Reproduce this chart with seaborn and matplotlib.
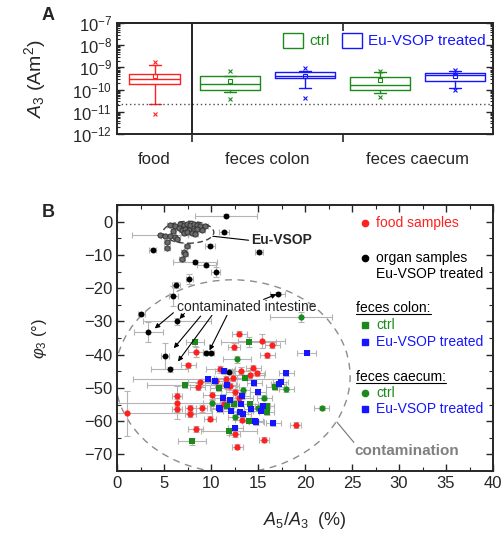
import numpy as np
import pandas as pd
import matplotlib
matplotlib.use("Agg")
import matplotlib.pyplot as plt
import seaborn as sns
from matplotlib.patches import Ellipse, Patch
from matplotlib.ticker import LogLocator, MultipleLocator, NullFormatter

sns.set_style("ticks")
plt.rcParams["font.family"] = ["Liberation Sans", "DejaVu Sans"]
plt.rcParams["mathtext.fontset"] = "custom"
plt.rcParams["mathtext.rm"] = "Liberation Sans"
plt.rcParams["mathtext.it"] = "Liberation Sans:italic"
plt.rcParams["mathtext.bf"] = "Liberation Sans:bold"

# -----------------------------
# Panel A: box statistics (A3 in Am^2)
# -----------------------------
box_names = ["food", "colon ctrl", "colon treated", "caecum ctrl", "caecum treated"]
box_q1 = [1.8e-10, 1.0e-10, 3.3e-10, 9.7e-11, 2.5e-10]
box_med = [2.9e-10, 1.8e-10, 4.1e-10, 1.6e-10, 4.4e-10]
box_q3 = [5.2e-10, 4.0e-10, 6.0e-10, 3.6e-10, 5.8e-10]
whis_lo = [2.3e-11, 7.6e-11, 1.15e-10, 6.9e-11, 1.23e-10]
whis_hi = [1.35e-9, 4.0e-10, 6.6e-10, 6.2e-10, 6.9e-10]
box_mean = [4.0e-10, 2.4e-10, 4.1e-10, 2.7e-10, 4.3e-10]
flier_lo = [8e-12, 3.7e-11, 4e-11, 4.6e-11, 9.8e-11]
flier_hi = [1.7e-9, 7e-10, 9e-10, 7e-10, 7.6e-10]
detection_limit = 2.2e-11
group_labels = ["food", "feces colon", "feces caecum"]

# -----------------------------
# Panel B: phase vs. A5/A3
# -----------------------------
food_x = [13.0, 15.4, 16.5, 12.45, 16.0, 8.4, 7.6, 11.0, 13.2, 14.1, 14.5, 14.9, 8.8,
          8.6, 10.5, 11.55, 11.6, 12.0, 6.4, 6.4, 6.4, 7.8, 7.8, 9.0, 1.1, 10.1, 12.6,
          11.4, 9.9, 13.35, 8.4, 19.0, 12.5, 15.65, 12.8, 13.0, 12.3]
food_y = [-33.7, -35.9, -37.1, -37.6, -40.2, -39.2, -43.2, -44.4, -44.8, -46.2, -43.9,
          -45.6, -48.3, -49.6, -47.9, -47.4, -49.0, -49.5, -52.4, -54.4, -56.4, -56.2,
          -57.9, -56.2, -57.7, -52.2, -51.2, -54.9, -59.3, -59.6, -62.4, -61.2, -63.9,
          -65.6, -67.7, -53.0, -47.0]
food_xerr = [0.8, 2.5, 0.8, 0.6, 0.8, 0.8, 0.8, 1.5, 1.0, 1.5, 0.8, 0.8, 1.2,
             0.8, 1.5, 1.0, 1.2, 1.0, 0.5, 6.4, 0.5, 0.6, 0.6, 0.6, 9.0, 1.0, 1.0,
             1.2, 0.6, 0.8, 0.8, 0.6, 0.6, 0.5, 0.6, 1.5, 2.0]
food_yerr = [0.8, 2.0, 0.8, 1.0, 0.8, 1.5, 0.8, 1.0, 1.0, 1.5, 0.8, 0.8, 1.0,
             1.0, 1.0, 1.0, 1.0, 1.0, 1.0, 5.0, 1.0, 1.0, 1.0, 1.0, 6.7, 1.0, 1.0,
             1.0, 0.8, 0.8, 1.0, 0.8, 0.8, 0.8, 0.8, 1.0, 1.0]

organ_x = [11.55, 11.4, 3.8, 15.1, 9.9, 8.3, 9.5, 10.5, 7.7, 6.3, 6.0, 2.6, 6.4, 3.35,
           5.1, 5.6, 9.5, 9.95, 11.9, 17.1]
organ_y = [1.8, -3.2, -8.4, -9.1, -7.2, -12.1, -12.9, -15.2, -17.2, -19.1, -22.4, -27.9,
           -30.0, -33.2, -40.4, -44.4, -39.4, -39.4, -45.1, -21.7]
organ_xerr = [3.3, 0.5, 0.4, 0.4, 0.5, 2.3, 1.0, 0.5, 0.4, 0.4, 0.5, 0.4, 3.6, 1.5,
              0.4, 2.0, 0.4, 0.4, 0.4, 0.8]
organ_yerr = [0.4, 0.5, 0.5, 0.5, 0.5, 0.6, 0.8, 1.5, 1.5, 1.0, 3.0, 0.6, 1.0, 3.0,
              4.0, 0.8, 0.6, 0.6, 0.8, 0.5]

vsop_x = [5.67, 6.2, 6.74, 7.1, 7.45, 7.8, 8.16, 8.5, 8.88, 9.4, 6.56, 6.9, 7.27, 7.63,
          8.16, 8.5, 9.05, 6.0, 7.1, 7.45, 8.0, 8.34, 4.6, 5.13, 5.67, 6.2, 6.38, 5.3,
          5.3, 7.45, 7.1, 7.27, 6.9]
vsop_y = [-0.9, -1.2, -0.6, -0.9, -0.6, -0.9, -0.6, -0.9, -1.2, -1.4, -1.9, -2.4, -2.2,
          -2.6, -2.4, -2.2, -2.6, -2.9, -3.4, -3.2, -3.4, -3.6, -3.9, -4.2, -4.4, -4.6,
          -5.2, -6.2, -7.9, -7.4, -9.2, -9.6, -11.2]
vsop_xerr = [0.3, 0.3, 0.3, 0.3, 0.3, 0.3, 0.3, 0.3, 0.3, 0.3, 0.3, 0.3, 0.3, 0.3,
             0.3, 0.3, 0.3, 0.3, 0.3, 0.3, 0.3, 0.3, 3.0, 0.5, 0.5, 0.5, 0.3, 0.3,
             0.3, 0.3, 0.3, 0.3, 0.3]

colon_ctrl_x = [14.0, 8.3, 7.2, 8.0, 11.9, 16.8, 13.6, 10.9, 12.45, 15.95, 15.95, 14.05,
                11.66, 14.2]
colon_ctrl_y = [-36.1, -36.3, -49.1, -66.1, -63.1, -49.6, -46.9, -49.9, -54.9, -55.4,
                -57.4, -59.9, -55.6, -54.9]
colon_ctrl_xerr = [2.9, 1.0, 4.0, 1.5, 3.0, 1.0, 0.8, 1.0, 1.0, 0.8, 0.8, 0.8, 0.8, 0.8]
colon_ctrl_yerr = [1.5, 1.0, 1.0, 1.0, 1.0, 1.0, 0.8, 1.0, 1.0, 0.8, 0.8, 0.8, 0.8, 0.8]

caecum_ctrl_x = [19.6, 12.8, 21.8, 18.0, 15.65, 13.4, 10.1, 15.0, 12.6]
caecum_ctrl_y = [-28.7, -41.4, -56.1, -50.4, -52.9, -50.6, -54.6, -56.2, -58.9]
caecum_ctrl_xerr = [3.3, 1.5, 0.8, 0.8, 0.8, 0.8, 1.0, 0.8, 0.8]
caecum_ctrl_yerr = [1.5, 1.0, 0.6, 0.8, 0.8, 0.8, 1.0, 0.8, 0.8]

colon_trt_x = [20.2, 18.0, 17.4, 17.2, 15.0, 13.3, 14.6, 11.4, 9.7, 10.4, 11.7, 11.3,
               12.0, 13.2, 11.0, 12.1]
colon_trt_y = [-39.4, -45.6, -48.1, -48.9, -51.2, -52.4, -48.6, -44.9, -47.4, -47.9,
               -49.2, -52.9, -53.6, -54.7, -56.4, -56.9]
colon_trt_xerr = [1.0, 0.8, 0.8, 0.8, 0.8, 0.8, 0.8, 1.0, 8.0, 1.0, 1.0, 1.0,
                  1.0, 0.8, 1.0, 0.8]
colon_trt_yerr = [0.6, 0.8, 0.8, 0.8, 0.8, 0.8, 0.8, 1.0, 1.0, 1.0, 1.0, 1.0,
                  1.0, 0.8, 1.0, 0.8]

caecum_trt_x = [15.5, 15.3, 14.3, 13.1, 13.45, 14.7, 14.8, 16.6, 12.6, 10.9]
caecum_trt_y = [-55.4, -56.9, -56.4, -57.4, -57.9, -59.9, -60.4, -60.7, -62.2, -56.2]
caecum_trt_xerr = [0.8, 0.8, 0.8, 0.8, 0.8, 0.8, 0.8, 0.8, 0.8, 1.0]
caecum_trt_yerr = [0.8, 0.8, 0.8, 0.8, 0.8, 0.8, 0.8, 0.8, 0.8, 1.0]

RED = "#ff2020"
GREEN = "#1b8a1b"
BLUE = "#1515ff"
ERR = "#b4b4b4"

fig = plt.figure(figsize=(5.03, 5.33), dpi=100)
axA = fig.add_axes([117 / 503, 1 - 134 / 533, 376 / 503, 111 / 533])
axB = fig.add_axes([117 / 503, 1 - 471 / 533, 376 / 503, 266 / 533])

# -----------------------------
# Panel A
# -----------------------------
stats = []
for i in range(len(box_names)):
    stats.append(dict(med=box_med[i], q1=box_q1[i], q3=box_q3[i],
                      whislo=whis_lo[i], whishi=whis_hi[i], mean=box_mean[i],
                      fliers=[flier_lo[i], flier_hi[i]], label=box_names[i]))
box_colors = [RED, GREEN, BLUE, GREEN, BLUE]
res = axA.bxp(stats, positions=[1, 2, 3, 4, 5], widths=[0.68, 0.8, 0.8, 0.8, 0.8],
              capwidths=0.16, showmeans=True, showfliers=True, patch_artist=False)
for i, c in enumerate(box_colors):
    res["boxes"][i].set(color=c, lw=1)
    res["medians"][i].set(color=c, lw=1)
    for j in (2 * i, 2 * i + 1):
        res["whiskers"][j].set(color=c, lw=1)
        res["caps"][j].set(color=c, lw=1)
    res["fliers"][i].set(marker="x", markeredgecolor=c, markersize=3.5, markeredgewidth=0.8)
    res["means"][i].set(marker="s", markerfacecolor="none", markeredgecolor=c,
                        markersize=3.5, markeredgewidth=0.8)

axA.axhline(detection_limit, color="0.3", ls=(0, (1, 2)), lw=1)
axA.axvline(1.5, color="k", lw=1.2)
axA.set_yscale("log")
axA.set_ylim(1e-12, 1e-7)
axA.set_xlim(0.5, 5.5)
axA.yaxis.set_major_locator(LogLocator(base=10, numticks=10))
axA.yaxis.set_minor_locator(LogLocator(base=10, subs=np.arange(2, 10), numticks=20))
axA.yaxis.set_minor_formatter(NullFormatter())
axA.tick_params(axis="y", which="both", direction="in", left=True, right=True, labelsize=12)
axA.tick_params(axis="y", which="major", length=5, width=1)
axA.tick_params(axis="y", which="minor", length=2.5, width=0.8)
axA.set_xticks([1.5, 3.5])
axA.set_xticklabels(["", ""])
axA.tick_params(axis="x", which="major", direction="out", length=6, width=1.2)
axA.set_xticks([1, 2.5, 4.5], minor=True)
axA.set_xticklabels(group_labels, minor=True)
axA.tick_params(axis="x", which="minor", length=0, pad=13, labelsize=12)
top = axA.secondary_xaxis("top")
top.set_xticks([3.5])
top.set_xticklabels([""])
top.tick_params(direction="in", length=6, width=1.2)
axA.set_ylabel("$A_3$ (Am$^2$)", fontsize=14)
axA.yaxis.set_label_coords(-0.183, 0.5)
for s in axA.spines.values():
    s.set_linewidth(1.4)
for s in top.spines.values():
    s.set_linewidth(1.4)

legA = axA.legend(handles=[Patch(facecolor="none", edgecolor=GREEN, lw=1),
                           Patch(facecolor="none", edgecolor=BLUE, lw=1)],
                  labels=["ctrl", "Eu-VSOP treated"], labelcolor=[GREEN, BLUE],
                  ncol=2, frameon=False, fontsize=11, loc="upper right",
                  bbox_to_anchor=(1.0, 0.98), handlelength=1.3, handleheight=1.1,
                  handletextpad=0.4, columnspacing=0.8, borderaxespad=0.1)

fig.text(42 / 503, 1 - 15 / 533, "A", fontsize=13, fontweight="bold", va="center")
fig.text(42 / 503, 1 - 213 / 533, "B", fontsize=13, fontweight="bold", va="center")

# -----------------------------
# Panel B
# -----------------------------
eb = dict(fmt="none", ecolor=ERR, elinewidth=0.8, capsize=2, capthick=0.8, zorder=1)
axB.errorbar(food_x, food_y, xerr=food_xerr, yerr=food_yerr, **eb)
axB.errorbar(organ_x, organ_y, xerr=organ_xerr, yerr=organ_yerr, **eb)
axB.errorbar(vsop_x, vsop_y, xerr=vsop_xerr, **eb)
axB.errorbar(colon_ctrl_x, colon_ctrl_y, xerr=colon_ctrl_xerr, yerr=colon_ctrl_yerr, **eb)
axB.errorbar(caecum_ctrl_x, caecum_ctrl_y, xerr=caecum_ctrl_xerr, yerr=caecum_ctrl_yerr, **eb)
axB.errorbar(colon_trt_x, colon_trt_y, xerr=colon_trt_xerr, yerr=colon_trt_yerr, **eb)
axB.errorbar(caecum_trt_x, caecum_trt_y, xerr=caecum_trt_xerr, yerr=caecum_trt_yerr, **eb)

sns.scatterplot(x=vsop_x, y=vsop_y, ax=axB, color="#6a6a6a", edgecolor="#2a2a2a",
                linewidth=0.6, s=14, marker="o", zorder=3)
sns.scatterplot(x=organ_x, y=organ_y, ax=axB, color="black", edgecolor="black",
                linewidth=0, s=18, marker="o", zorder=3)
sns.scatterplot(x=food_x, y=food_y, ax=axB, color=RED, linewidth=0, s=20, marker="o", zorder=3)
sns.scatterplot(x=caecum_ctrl_x, y=caecum_ctrl_y, ax=axB, color=GREEN, linewidth=0, s=20,
                marker="o", zorder=3)
sns.scatterplot(x=colon_ctrl_x, y=colon_ctrl_y, ax=axB, color=GREEN, linewidth=0, s=20,
                marker="s", zorder=3)
sns.scatterplot(x=colon_trt_x, y=colon_trt_y, ax=axB, color=BLUE, linewidth=0, s=20,
                marker="s", zorder=3)
sns.scatterplot(x=caecum_trt_x, y=caecum_trt_y, ax=axB, color=BLUE, linewidth=0, s=20,
                marker="s", zorder=3)

axB.add_patch(Ellipse((7.6, -3.2), 5.4, 6.6, fill=False, ls=(0, (4, 2.5)),
                      edgecolor="0.25", lw=1, zorder=2))
axB.add_patch(Ellipse((12.3, -46.5), 25.0, 58.0, fill=False, ls=(0, (5, 4)),
                      edgecolor="0.55", lw=1, zorder=0.5))

axB.plot([10.2, 14.0], [-4.4, -5.6], color="k", lw=0.8)
axB.text(14.3, -5.6, "Eu-VSOP", fontsize=10, fontweight="bold", va="center")
axB.plot([23.4, 25.2], [-60.3, -66.4], color="0.45", lw=0.8)
axB.text(25.3, -69.0, "contamination", fontsize=11, fontweight="bold", color="0.5",
         va="center")
axB.text(6.4, -25.6, "contaminated intestine", fontsize=10, va="center")
arrows = [((6.0, -27.4), (3.9, -32.4)), ((7.17, -27.6), (6.56, -29.6)),
          ((8.9, -28.4), (5.95, -38.4)), ((10.1, -28.2), (6.4, -42.4)),
          ((11.7, -28.2), (9.77, -39.1)), ((15.6, -23.4), (17.1, -21.7))]
for tail, head in arrows:
    axB.annotate("", xy=head, xytext=tail,
                 arrowprops=dict(arrowstyle="-|>", color="k", lw=0.8, mutation_scale=7,
                                 shrinkA=0, shrinkB=1))

# legend block
mk = dict(ms=4.5, ls="none", clip_on=False)
axB.plot([26.4], [-0.4], "o", color=RED, **mk)
axB.text(27.6, -0.4, "food samples", color=RED, fontsize=10, va="center")
axB.plot([26.4], [-10.9], "o", color="k", **mk)
axB.text(27.6, -10.9, "organ samples", color="k", fontsize=10, va="center")
axB.text(27.5, -15.7, "Eu-VSOP treated", color="k", fontsize=10, va="center")
h1 = axB.text(25.45, -26.1, "feces colon:", color="k", fontsize=10, va="center")
axB.plot([26.4], [-31.1], "s", color=GREEN, **mk)
axB.text(27.6, -31.1, "ctrl", color=GREEN, fontsize=10, va="center")
axB.plot([26.4], [-36.2], "s", color=BLUE, **mk)
axB.text(27.6, -36.2, "Eu-VSOP treated", color=BLUE, fontsize=10, va="center")
h2 = axB.text(25.45, -46.6, "feces caecum:", color="k", fontsize=10, va="center")
axB.plot([26.4], [-51.4], "o", color=GREEN, **mk)
axB.text(27.6, -51.4, "ctrl", color=GREEN, fontsize=10, va="center")
axB.plot([26.4], [-56.4], "s", color=BLUE, **mk)
axB.text(27.6, -56.4, "Eu-VSOP treated", color=BLUE, fontsize=10, va="center")

axB.set_xlim(0, 40)
axB.set_ylim(-75, 5)
axB.xaxis.set_major_locator(MultipleLocator(5))
axB.xaxis.set_minor_locator(MultipleLocator(2.5))
axB.yaxis.set_major_locator(MultipleLocator(10))
axB.yaxis.set_minor_locator(MultipleLocator(5))
axB.tick_params(which="both", direction="in", top=True, right=True, labelsize=12)
axB.tick_params(which="major", length=5, width=1)
axB.tick_params(which="minor", length=3, width=0.8)
axB.set_xlabel("$A_5/A_3$  (%)", fontsize=13, labelpad=14)
axB.set_ylabel("$\\varphi_3$ (°)", fontsize=12)
axB.yaxis.set_label_coords(-0.18, 0.5)
for s in axB.spines.values():
    s.set_linewidth(1.4)

# underline legend headers
fig.canvas.draw()
r = fig.canvas.get_renderer()
inv = axB.transData.inverted()
for h in (h1, h2):
    bb = h.get_window_extent(r)
    (x0, y0), (x1, _) = inv.transform([(bb.x0, bb.y0 + 1), (bb.x1, bb.y0 + 1)])
    axB.plot([x0, x1], [y0, y0], color="k", lw=0.8, clip_on=False)

fig.savefig("out.png", dpi=100)
